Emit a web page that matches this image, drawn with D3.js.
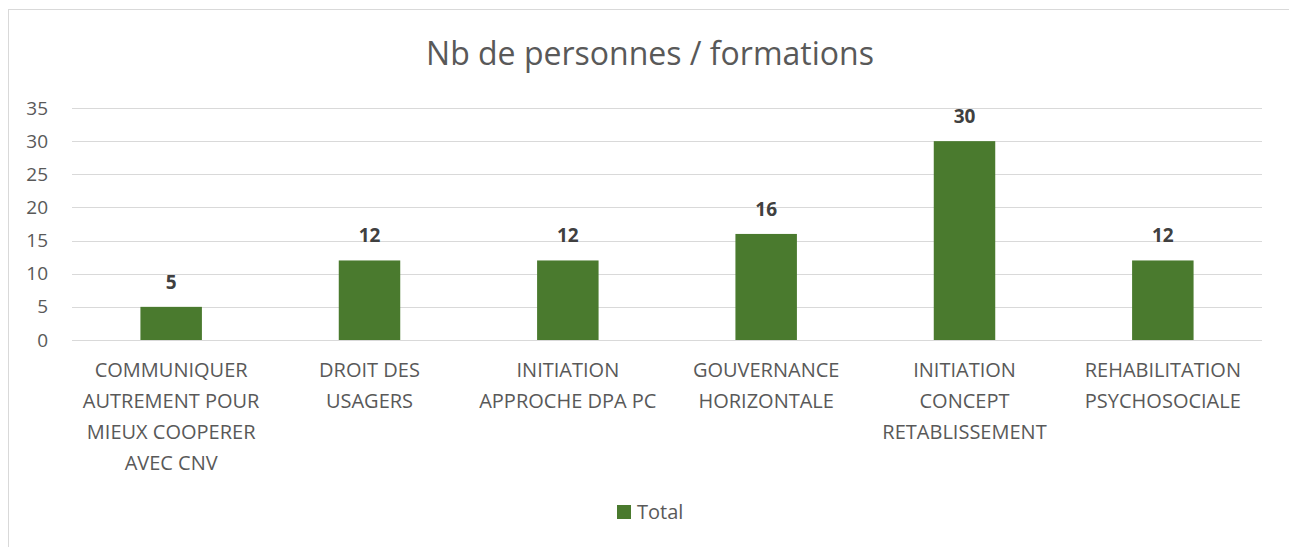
<!DOCTYPE html>
<html>
<head>
<meta charset="utf-8">
<script src="https://cdn.jsdelivr.net/npm/d3@7"></script>
<style>
  body { margin: 0; background: #fff; }
  text { font-family: "Open Sans", sans-serif; fill: #595959; }
</style>
</head>
<body>
<div id="chart"></div>
<script>
// chart data
var categories = [
  ["COMMUNIQUER", "AUTREMENT POUR", "MIEUX COOPERER", "AVEC CNV"],
  ["DROIT DES", "USAGERS"],
  ["INITIATION", "APPROCHE DPA PC"],
  ["GOUVERNANCE", "HORIZONTALE"],
  ["INITIATION", "CONCEPT", "RETABLISSEMENT"],
  ["REHABILITATION", "PSYCHOSOCIALE"]
];
var totals = [5, 12, 12, 16, 30, 12];
var yTicks = [0, 5, 10, 15, 20, 25, 30, 35];
var seriesName = "Total";
var title = "Nb de personnes / formations";

var svgWidth = 1289, svgHeight = 547;
var margin = { top: 108, right: 27, bottom: 207, left: 72 };
var width = svgWidth - margin.left - margin.right;
var height = svgHeight - margin.top - margin.bottom;
var green = "#4a7a2e";

var svg = d3.select("#chart")
  .append("svg")
  .attr("width", svgWidth)
  .attr("height", svgHeight);

// outer frame (cut off on right and bottom like the picture)
svg.append("rect")
  .attr("x", 8.5).attr("y", 9.5)
  .attr("width", 1400).attr("height", 700)
  .attr("fill", "none")
  .attr("stroke", "#d9d9d9");

svg.append("text")
  .attr("x", 650).attr("y", 65)
  .attr("text-anchor", "middle")
  .attr("font-size", "32px")
  .text(title);

var chartGroup = svg.append("g")
  .attr("transform", `translate(${margin.left}, ${margin.top})`);

var x = d3.scaleBand()
  .domain(d3.range(categories.length))
  .range([0, width])
  .paddingInner(0.69)
  .paddingOuter(0.345);

var y = d3.scaleLinear()
  .domain([0, 35])
  .range([height, 0]);

// gridlines
chartGroup.append("g")
  .selectAll("line")
  .data(yTicks)
  .enter()
  .append("line")
  .attr("x1", 0).attr("x2", width)
  .attr("y1", d => Math.round(y(d)) + 0.5)
  .attr("y2", d => Math.round(y(d)) + 0.5)
  .attr("stroke", "#d9d9d9")
  .attr("stroke-width", 1);

// y axis
var leftAxis = d3.axisLeft(y).tickValues(yTicks).tickSize(0).tickPadding(24);
var yAxisG = chartGroup.append("g").call(leftAxis);
yAxisG.select(".domain").remove();
yAxisG.selectAll("text")
  .attr("font-family", null)
  .attr("font-size", "19px")
  .attr("fill", "#595959");

// bars
chartGroup.selectAll("rect.bar")
  .data(totals)
  .enter()
  .append("rect")
  .attr("class", "bar")
  .attr("x", (d, i) => x(i))
  .attr("y", d => y(d))
  .attr("width", x.bandwidth())
  .attr("height", d => height - y(d))
  .attr("fill", green);

// value labels
chartGroup.selectAll("text.val")
  .data(totals)
  .enter()
  .append("text")
  .attr("class", "val")
  .attr("x", (d, i) => x(i) + x.bandwidth() / 2)
  .attr("y", d => y(d) - 18)
  .attr("text-anchor", "middle")
  .attr("font-size", "19px")
  .attr("font-weight", "bold")
  .style("fill", "#404040")
  .text(d => d);

// category labels
var catG = chartGroup.selectAll("text.cat")
  .data(categories)
  .enter()
  .append("text")
  .attr("class", "cat")
  .attr("text-anchor", "middle")
  .attr("font-size", "20px")
  .attr("transform", (d, i) => `translate(${x(i) + x.bandwidth() / 2}, ${height + 37})`);
catG.selectAll("tspan")
  .data(d => d)
  .enter()
  .append("tspan")
  .attr("x", 0)
  .attr("y", (d, i) => i * 31)
  .text(d => d);

// legend
var legend = svg.append("g").attr("transform", "translate(617, 505)");
legend.append("rect")
  .attr("width", 14).attr("height", 14)
  .attr("fill", green);
legend.append("text")
  .attr("x", 20).attr("y", 14)
  .attr("font-size", "20px")
  .text(seriesName);
</script>
</body>
</html>
